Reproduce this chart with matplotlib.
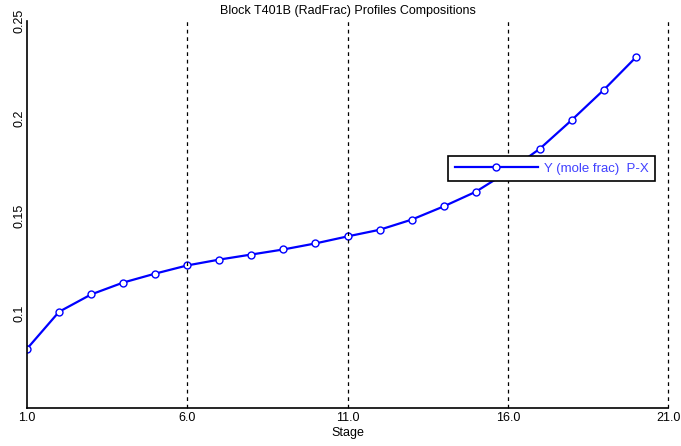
import numpy as np
import matplotlib.pyplot as plt

stages = list(range(1, 21))
y_mole_frac = [0.0817, 0.1007, 0.1096, 0.1157, 0.1203, 0.1245, 0.1275, 0.1301,
               0.1327, 0.1358, 0.1394, 0.1428, 0.1480, 0.1548, 0.1623, 0.1726,
               0.1844, 0.1992, 0.2147, 0.2314]
x_ticks = [1, 6, 11, 16, 21]
y_ticks = [0.1, 0.15, 0.2, 0.25]

plt.rcParams['font.family'] = ['Liberation Sans', 'DejaVu Sans']

fig = plt.figure(figsize=(6.81, 4.46), dpi=100)
ax = fig.add_axes([27 / 681, 1 - 408 / 446, 641 / 681, 387 / 446])

ax.plot(stages, y_mole_frac, color='#0000ff', lw=1.6, marker='o', markersize=5,
        markerfacecolor='white', markeredgecolor='#0000ff', markeredgewidth=1,
        label='Y (mole frac)  P-X')

ax.set_xlim(1, 21)
ax.set_ylim(0.0513, 0.25)
ax.set_xticks(x_ticks)
ax.set_xticklabels(['%.1f' % v for v in x_ticks])
ax.set_yticks(y_ticks)
ax.set_yticklabels(['0.1', '0.15', '0.2', '0.25'], rotation=90, va='center')
ax.tick_params(length=0, labelsize=9)
ax.tick_params(axis='y', pad=1)
ax.tick_params(axis='x', pad=3)

for xv in x_ticks[1:]:
    ax.axvline(xv, color='black', lw=0.9, ls=(0, (3, 3)), clip_on=False)

for s in ['top', 'right']:
    ax.spines[s].set_visible(False)
for s in ['left', 'bottom']:
    ax.spines[s].set_linewidth(1.2)

ax.set_title('Block T401B (RadFrac) Profiles Compositions', fontsize=9, pad=5)
ax.set_xlabel('Stage', fontsize=9, labelpad=2)

leg = ax.legend(loc='upper left', bbox_to_anchor=(421 / 641, (408 - 156) / 387),
                fontsize=9.5, frameon=True, fancybox=False, edgecolor='black',
                framealpha=1, handlelength=6.3, handletextpad=0.45,
                borderpad=0.5, borderaxespad=0)
leg.get_frame().set_linewidth(1.2)
for t in leg.get_texts():
    t.set_color('#4040ff')

fig.savefig('out.png', dpi=100)
